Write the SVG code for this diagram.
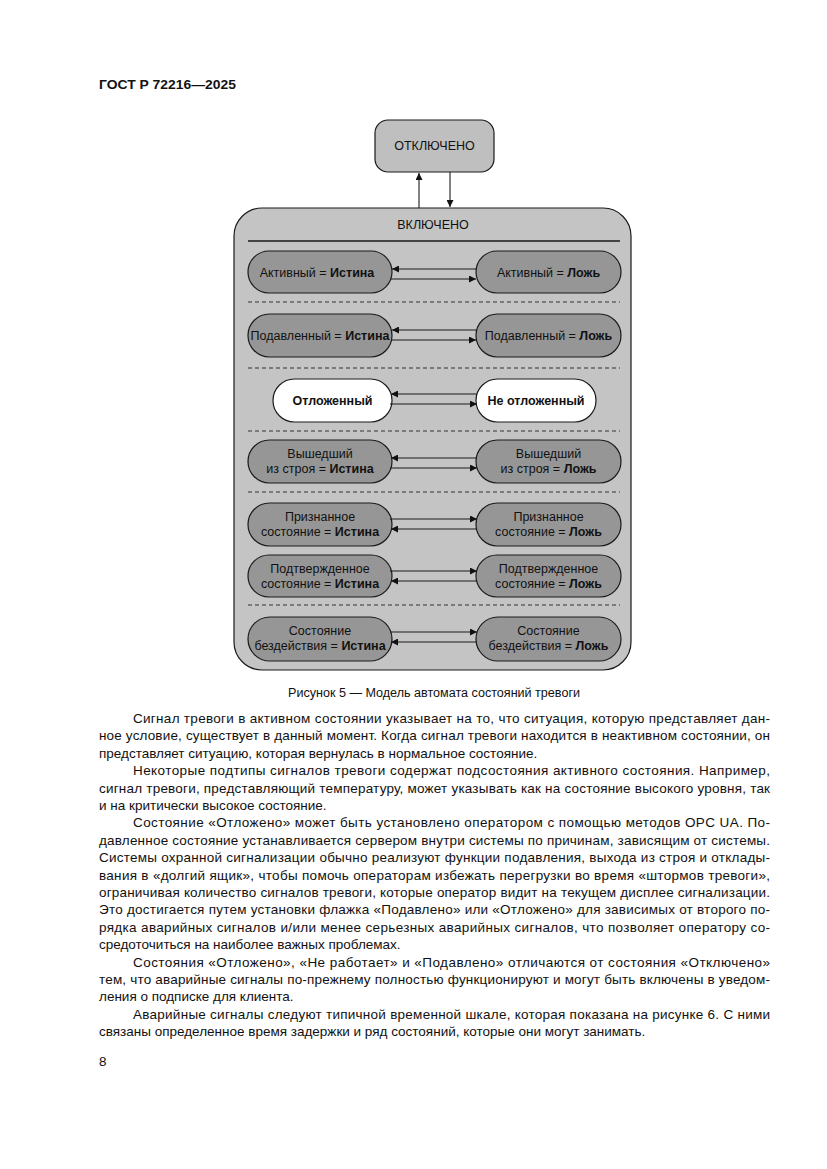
<svg xmlns="http://www.w3.org/2000/svg" width="827" height="1169" viewBox="0 0 827 1169">
<style>
text{font-family:"Liberation Sans",Arial,sans-serif;fill:#111}
.b{font-weight:bold}
.pill{fill:#969696;stroke:#1a1a1a;stroke-width:1.2}
.pw{fill:#ffffff;stroke:#1a1a1a;stroke-width:1.2}
.pt{font-size:12.5px;text-anchor:middle}
.con{stroke:#1a1a1a;stroke-width:1.1;fill:none}
.dash{stroke:#333;stroke-width:1.2;stroke-dasharray:4 3;fill:none}
.body{font-size:13.5px}
</style>
<defs>
<marker id="ah" viewBox="0 0 10 10" refX="10" refY="5" markerWidth="9" markerHeight="7" markerUnits="userSpaceOnUse" orient="auto">
<path d="M0,0 L10,5 L0,10 z" fill="#111"/>
</marker>
</defs>
<rect width="827" height="1169" fill="#ffffff"/>
<text x="99" y="89" class="b" font-size="13.5" textLength="137" lengthAdjust="spacingAndGlyphs">ГОСТ Р 72216—2025</text>

<g id="node-off">
<rect x="375" y="120" width="119" height="52" rx="13" fill="#bfbfbf" stroke="#1a1a1a" stroke-width="1.2"/>
<text x="434.5" y="150" font-size="12.5" text-anchor="middle">ОТКЛЮЧЕНО</text>
</g>

<g id="node-on">
<rect x="234" y="208" width="397" height="462" rx="28" fill="#c4c4c4" stroke="#1a1a1a" stroke-width="1.2"/>
<text x="433" y="229" font-size="12.5" text-anchor="middle">ВКЛЮЧЕНО</text>
<line x1="248" y1="241" x2="620" y2="241" stroke="#1a1a1a" stroke-width="1.3"/>
<line class="dash" x1="248" y1="302" x2="620" y2="302"/>
<line class="dash" x1="248" y1="368" x2="620" y2="368"/>
<line class="dash" x1="248" y1="431" x2="620" y2="431"/>
<line class="dash" x1="248" y1="492" x2="620" y2="492"/>
<line class="dash" x1="248" y1="605" x2="620" y2="605"/>
</g>

<g id="active-true"><rect class="pill" x="248" y="251" width="144" height="42" rx="21"/>
<text class="pt" x="317" y="276.5">Активный = <tspan class="b">Истина</tspan></text></g>
<g id="active-false"><rect class="pill" x="476" y="251" width="145" height="42" rx="21"/>
<text class="pt" x="548.5" y="276.5">Активный = <tspan class="b">Ложь</tspan></text></g>

<g id="suppr-true"><rect class="pill" x="248" y="314" width="144" height="43" rx="21.5"/>
<text class="pt" x="320" y="340">Подавленный = <tspan class="b">Истина</tspan></text></g>
<g id="suppr-false"><rect class="pill" x="476" y="314" width="145" height="43" rx="21.5"/>
<text class="pt" x="548.5" y="340">Подавленный = <tspan class="b">Ложь</tspan></text></g>

<g id="shelved"><rect class="pw" x="273" y="379" width="119" height="43" rx="21.5"/>
<text class="pt b" x="332.5" y="405">Отложенный</text></g>
<g id="unshelved"><rect class="pw" x="476" y="379" width="120" height="43" rx="21.5"/>
<text class="pt b" x="536" y="405">Не отложенный</text></g>

<g id="oos-true"><rect class="pill" x="248" y="440" width="144" height="43" rx="21.5"/>
<text class="pt" x="320" y="458">Вышедший</text>
<text class="pt" x="320" y="473">из строя = <tspan class="b">Истина</tspan></text></g>
<g id="oos-false"><rect class="pill" x="476" y="440" width="145" height="43" rx="21.5"/>
<text class="pt" x="548.5" y="458">Вышедший</text>
<text class="pt" x="548.5" y="473">из строя = <tspan class="b">Ложь</tspan></text></g>

<g id="ack-true"><rect class="pill" x="248" y="503" width="144" height="43" rx="21.5"/>
<text class="pt" x="320" y="521">Признанное</text>
<text class="pt" x="320" y="536">состояние = <tspan class="b">Истина</tspan></text></g>
<g id="ack-false"><rect class="pill" x="476" y="503" width="145" height="43" rx="21.5"/>
<text class="pt" x="548.5" y="521">Признанное</text>
<text class="pt" x="548.5" y="536">состояние = <tspan class="b">Ложь</tspan></text></g>

<g id="conf-true"><rect class="pill" x="248" y="555" width="144" height="42" rx="21"/>
<text class="pt" x="320" y="573">Подтвержденное</text>
<text class="pt" x="320" y="588">состояние = <tspan class="b">Истина</tspan></text></g>
<g id="conf-false"><rect class="pill" x="476" y="555" width="145" height="42" rx="21"/>
<text class="pt" x="548.5" y="573">Подтвержденное</text>
<text class="pt" x="548.5" y="588">состояние = <tspan class="b">Ложь</tspan></text></g>

<g id="idle-true"><rect class="pill" x="248" y="617" width="144" height="44" rx="22"/>
<text class="pt" x="320" y="635">Состояние</text>
<text class="pt" x="320" y="650">бездействия = <tspan class="b">Истина</tspan></text></g>
<g id="idle-false"><rect class="pill" x="476" y="617" width="145" height="44" rx="22"/>
<text class="pt" x="548.5" y="635">Состояние</text>
<text class="pt" x="548.5" y="650">бездействия = <tspan class="b">Ложь</tspan></text></g>

<g id="connectors">
<line class="con" x1="419" y1="208" x2="419" y2="173" marker-end="url(#ah)"/>
<line class="con" x1="450" y1="172" x2="450" y2="207" marker-end="url(#ah)"/>
<line class="con" x1="477" y1="269" x2="392" y2="269" marker-end="url(#ah)"/>
<line class="con" x1="391" y1="279" x2="476" y2="279" marker-end="url(#ah)"/>
<line class="con" x1="477" y1="330" x2="392" y2="330" marker-end="url(#ah)"/>
<line class="con" x1="391" y1="340" x2="476" y2="340" marker-end="url(#ah)"/>
<line class="con" x1="477" y1="394" x2="391" y2="394" marker-end="url(#ah)"/>
<line class="con" x1="390" y1="404" x2="477" y2="404" marker-end="url(#ah)"/>
<line class="con" x1="477" y1="458" x2="391" y2="458" marker-end="url(#ah)"/>
<line class="con" x1="390" y1="468" x2="477" y2="468" marker-end="url(#ah)"/>
<line class="con" x1="390" y1="519" x2="477" y2="519" marker-end="url(#ah)"/>
<line class="con" x1="477" y1="529" x2="391" y2="529" marker-end="url(#ah)"/>
<line class="con" x1="390" y1="571" x2="477" y2="571" marker-end="url(#ah)"/>
<line class="con" x1="477" y1="581" x2="391" y2="581" marker-end="url(#ah)"/>
<line class="con" x1="390" y1="632" x2="477" y2="632" marker-end="url(#ah)"/>
<line class="con" x1="477" y1="642" x2="391" y2="642" marker-end="url(#ah)"/>
</g>

<text x="434" y="697" font-size="12" text-anchor="middle" textLength="292" lengthAdjust="spacingAndGlyphs">Рисунок 5 — Модель автомата состояний тревоги</text>

<g class="body">
<text class="body" x="133" y="723" textLength="637" lengthAdjust="spacing">Сигнал тревоги в активном состоянии указывает на то, что ситуация, которую представляет дан-</text>
<text class="body" x="99" y="740.4" textLength="671" lengthAdjust="spacing">ное условие, существует в данный момент. Когда сигнал тревоги находится в неактивном состоянии, он</text>
<text class="body" x="99" y="757.8">представляет ситуацию, которая вернулась в нормальное состояние.</text>
<text class="body" x="133" y="775.2" textLength="637" lengthAdjust="spacing">Некоторые подтипы сигналов тревоги содержат подсостояния активного состояния. Например,</text>
<text class="body" x="99" y="792.6" textLength="671" lengthAdjust="spacing">сигнал тревоги, представляющий температуру, может указывать как на состояние высокого уровня, так</text>
<text class="body" x="99" y="810">и на критически высокое состояние.</text>
<text class="body" x="133" y="827.4" textLength="637" lengthAdjust="spacing">Состояние «Отложено» может быть установлено оператором с помощью методов OPC UA. По-</text>
<text class="body" x="99" y="844.8" textLength="671" lengthAdjust="spacing">давленное состояние устанавливается сервером внутри системы по причинам, зависящим от системы.</text>
<text class="body" x="99" y="862.2" textLength="671" lengthAdjust="spacing">Системы охранной сигнализации обычно реализуют функции подавления, выхода из строя и отклады-</text>
<text class="body" x="99" y="879.6" textLength="671" lengthAdjust="spacing">вания в «долгий ящик», чтобы помочь операторам избежать перегрузки во время «штормов тревоги»,</text>
<text class="body" x="99" y="897" textLength="671" lengthAdjust="spacing">ограничивая количество сигналов тревоги, которые оператор видит на текущем дисплее сигнализации.</text>
<text class="body" x="99" y="914.4" textLength="671" lengthAdjust="spacing">Это достигается путем установки флажка «Подавлено» или «Отложено» для зависимых от второго по-</text>
<text class="body" x="99" y="931.8" textLength="671" lengthAdjust="spacing">рядка аварийных сигналов и/или менее серьезных аварийных сигналов, что позволяет оператору со-</text>
<text class="body" x="99" y="949.2">средоточиться на наиболее важных проблемах.</text>
<text class="body" x="133" y="966.6" textLength="637" lengthAdjust="spacing">Состояния «Отложено», «Не работает» и «Подавлено» отличаются от состояния «Отключено»</text>
<text class="body" x="99" y="984" textLength="671" lengthAdjust="spacing">тем, что аварийные сигналы по-прежнему полностью функционируют и могут быть включены в уведом-</text>
<text class="body" x="99" y="1001.4">ления о подписке для клиента.</text>
<text class="body" x="133" y="1018.8" textLength="637" lengthAdjust="spacing">Аварийные сигналы следуют типичной временной шкале, которая показана на рисунке 6. С ними</text>
<text class="body" x="99" y="1036.2">связаны определенное время задержки и ряд состояний, которые они могут занимать.</text>
</g>
<text x="99" y="1066" font-size="13.5">8</text>
</svg>
